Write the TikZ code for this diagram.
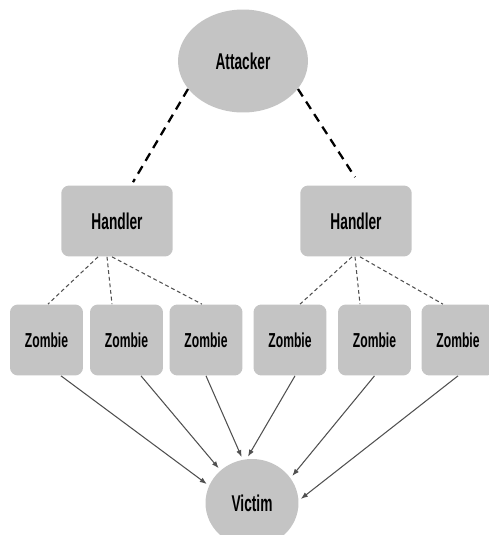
\documentclass[tikz,border=0pt]{standalone}
\usepackage{fontspec}
\newfontfamily\nodefont{Liberation Sans}[FakeStretch=0.6]
\usetikzlibrary{shapes.geometric, arrows.meta}
\definecolor{boxgray}{HTML}{C4C4C4}
\definecolor{linegray}{HTML}{505050}

\begin{document}
\begin{tikzpicture}[
			x=0.02cm, y=-0.02cm,
			every node/.style={fill=boxgray, font=\nodefont\bfseries, inner sep=0pt},
			blob/.style={ellipse, minimum width=2.6cm, minimum height=2.06cm, font=\nodefont\bfseries\fontsize{13}{15}\selectfont},
			handler/.style={rectangle, rounded corners=4.5pt, minimum width=2.23cm, minimum height=1.42cm, font=\nodefont\bfseries\fontsize{13}{15}\selectfont},
			zombie/.style={rectangle, rounded corners=4.5pt, minimum width=1.46cm, minimum height=1.42cm, font=\nodefont\bfseries\fontsize{11.5}{13}\selectfont},
			command/.style={draw=black, line width=1.3pt, dash pattern=on 5pt off 3.5pt},
			control/.style={draw=linegray, line width=0.6pt, dash pattern=on 2.2pt off 1.6pt},
			flood/.style={draw=linegray, line width=0.6pt, -{Latex[length=4pt,width=3pt]}, shorten >=1.5pt}
			]
			\useasboundingbox (0,0) rectangle (488,535);
			% nodes
			\node[blob] (att) at (243,61) {Attacker};
			\node[handler] (hl) at (117,221) {Handler};
			\node[handler] (hr) at (356,221) {Handler};
			\node[zombie] (z1) at (46.5,340) {Zombie};
			\node[zombie] (z2) at (126.5,340) {Zombie};
			\node[zombie] (z3) at (206,340) {Zombie};
			\node[zombie] (z4) at (290,340) {Zombie};
			\node[zombie] (z5) at (374.5,340) {Zombie};
			\node[zombie] (z6) at (458,340) {Zombie};
			\node[blob, minimum width=1.86cm, minimum height=1.76cm] (vic) at (252,503) {Victim};
			% attacker to handlers
			\draw[command] (att.207) -- ([xshift=0.32cm,yshift=0.06cm]hl.north);
			\draw[command] (att.333) -- ([xshift=-0.02cm,yshift=0.16cm]hr.north);
			% handlers to zombies
			\draw[control] ([xshift=-0.38cm]hl.south) -- ([xshift=0.03cm]z1.north);
			\draw[control] ([xshift=-0.2cm]hl.south) -- ([xshift=-0.29cm]z2.north);
			\draw[control] ([xshift=-0.1cm]hl.south) -- ([xshift=-0.08cm]z3.north);
			\draw[control] ([xshift=-0.08cm]hr.south) -- ([xshift=0.2cm]z4.north);
			\draw[control] ([xshift=-0.02cm]hr.south) -- ([xshift=-0.29cm]z5.north);
			\draw[control] ([xshift=0.08cm]hr.south) -- ([xshift=-0.3cm]z6.north);
			% zombies to victim
			\draw[flood] ([xshift=0.29cm]z1.south) -- (vic.158);
			\draw[flood] ([xshift=0.29cm]z2.south) -- (vic.134);
			\draw[flood] (z3.south) -- (vic.102);
			\draw[flood] ([xshift=0.1cm]z4.south) -- (vic.97);
			\draw[flood] (z5.south) -- (vic.33);
			\draw[flood] (z6.south) -- (vic.3);
\end{tikzpicture}
\end{document}
